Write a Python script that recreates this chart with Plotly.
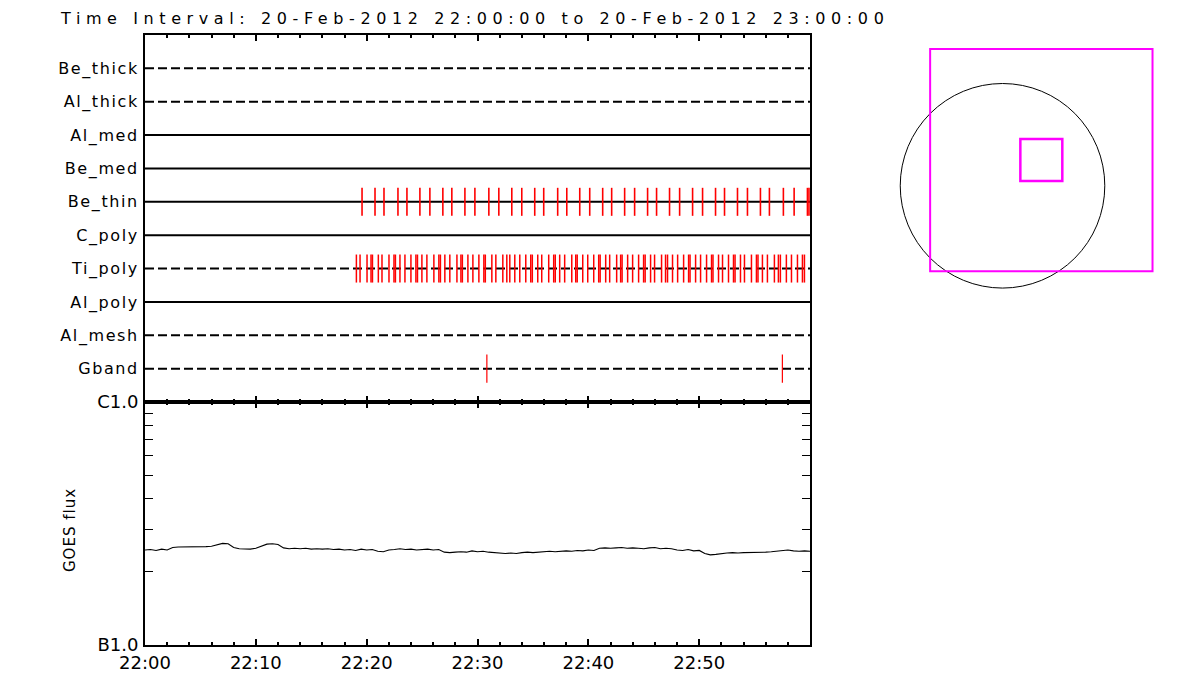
import pandas as pd
import plotly.graph_objects as go

# ---------------- data ----------------
title_text = "Time Interval: 20-Feb-2012 22:00:00 to 20-Feb-2012 23:00:00"
t_start = pd.Timestamp("2012-02-20 22:00:00")
t_end = pd.Timestamp("2012-02-20 23:00:00")

# detector/attenuator rows, bottom to top
rows = ["Gband", "Al_mesh", "Al_poly", "Ti_poly", "C_poly",
        "Be_thin", "Be_med", "Al_med", "Al_thick", "Be_thick"]
row_dashed = [True, True, False, True, False, False, False, False, True, True]

# event times, minutes after 22:00
be_thin_min = [19.58, 20.75, 21.56, 22.82, 23.63, 24.80, 25.70, 26.87, 27.68, 28.86,
               29.76, 31.02, 31.92, 33.09, 33.99, 35.16, 35.97, 37.23, 38.05, 39.22,
               40.12, 41.29, 42.10, 43.27, 44.17, 45.34, 46.15, 47.32, 48.23, 49.40,
               50.30, 51.47, 52.28, 53.45, 54.35, 55.52, 56.33, 57.59, 58.56, 59.76, 59.90]
ti_poly_min = [19.07, 19.40, 20.03, 20.39, 20.52, 21.05, 21.38, 22.01, 22.46, 22.59,
               23.00, 23.45, 23.99, 24.44, 24.58, 24.98, 25.43, 26.06, 26.51, 26.65,
               27.05, 27.50, 28.14, 28.50, 28.63, 29.13, 29.58, 30.12, 30.57, 30.70,
               31.29, 31.65, 32.28, 32.64, 32.91, 33.36, 33.81, 34.35, 34.80, 34.94,
               35.43, 35.79, 36.42, 36.87, 37.01, 37.41, 37.86, 38.50, 38.86, 38.99,
               39.49, 39.94, 40.48, 40.93, 41.06, 41.56, 41.92, 42.55, 42.91, 43.04,
               43.54, 43.99, 44.53, 44.98, 45.12, 45.61, 45.97, 46.60, 46.96, 47.14,
               47.59, 48.05, 48.59, 49.04, 49.17, 49.67, 50.12, 50.66, 51.11, 51.24,
               51.74, 52.10, 52.64, 53.09, 53.23, 53.72, 54.08, 54.71, 55.16, 55.30,
               55.70, 56.15, 56.78, 57.14, 57.32, 57.86, 58.32, 58.86, 59.31, 59.49]
gband_min = [30.84, 57.50]

# GOES flux, every 30 s from 22:00 (units of 1e-7 W/m^2)
goes_step_min = 0.5
goes_flux_e7 = [2.46, 2.47, 2.45, 2.48, 2.46, 2.52, 2.53, 2.53, 2.54, 2.53,
                2.54, 2.54, 2.55, 2.58, 2.62, 2.61, 2.52, 2.49, 2.49, 2.48,
                2.50, 2.55, 2.60, 2.61, 2.59, 2.51, 2.49, 2.50, 2.49, 2.50,
                2.48, 2.49, 2.48, 2.49, 2.47, 2.48, 2.46, 2.47, 2.45, 2.48,
                2.46, 2.47, 2.43, 2.42, 2.46, 2.47, 2.49, 2.47, 2.48, 2.46,
                2.47, 2.48, 2.46, 2.47, 2.41, 2.40, 2.41, 2.42, 2.41, 2.44,
                2.42, 2.43, 2.41, 2.40, 2.39, 2.38, 2.39, 2.38, 2.40, 2.41,
                2.40, 2.41, 2.42, 2.43, 2.42, 2.43, 2.44, 2.43, 2.45, 2.44,
                2.46, 2.45, 2.50, 2.51, 2.50, 2.51, 2.52, 2.50, 2.51, 2.50,
                2.49, 2.51, 2.52, 2.49, 2.50, 2.49, 2.46, 2.45, 2.47, 2.44,
                2.45, 2.38, 2.35, 2.36, 2.38, 2.39, 2.40, 2.39, 2.40, 2.40,
                2.41, 2.40, 2.41, 2.42, 2.43, 2.45, 2.46, 2.44, 2.43, 2.44, 2.43]
goes_tickvals = [1e-7, 1e-6]
goes_ticktext = ["B1.0", "C1.0"]
goes_minor = [2e-7, 3e-7, 4e-7, 5e-7, 6e-7, 7e-7, 8e-7, 9e-7]

# solar disk and imaging field of view (arcsec)
sun_radius = 975
fov_center = (370, 245)
fov_big = 2120
fov_small = 400

# ---------------- figure ----------------
OFF = 8                      # page body margin
W, H = 1200 - OFF, 700 - OFF
def px_x(p): return (p - OFF) / W
def px_y(p): return 1 - (p - OFF) / H

def tm(m):
    return t_start + pd.Timedelta(minutes=m)

FONT = "DejaVu Sans"
fig = go.Figure()

# row lines
for i, (name, dashed) in enumerate(zip(rows, row_dashed)):
    y = i + 1
    fig.add_trace(go.Scatter(
        x=[t_start, t_end], y=[y, y], mode="lines",
        line=dict(color="black", width=2, dash="9px,4px" if dashed else "solid"),
        xaxis="x", yaxis="y", hoverinfo="skip", showlegend=False))

def tick_segments(mins, row, half=0.42):
    xs, ys = [], []
    for m in mins:
        xs += [tm(m), tm(m), None]
        ys += [row - half, row + half, None]
    return xs, ys

for mins, name, width in [(be_thin_min, "Be_thin", 1.6),
                          (ti_poly_min, "Ti_poly", 1.5),
                          (gband_min, "Gband", 1.2)]:
    xs, ys = tick_segments(mins, rows.index(name) + 1)
    fig.add_trace(go.Scatter(x=xs, y=ys, mode="lines",
                             line=dict(color="#ff0000", width=width),
                             xaxis="x", yaxis="y", hoverinfo="skip", showlegend=False))

# GOES
goes_t = [tm(i * goes_step_min) for i in range(len(goes_flux_e7))]
goes_v = [v * 1e-7 for v in goes_flux_e7]
fig.add_trace(go.Scatter(x=goes_t, y=goes_v, mode="lines",
                         line=dict(color="black", width=1.1),
                         xaxis="x2", yaxis="y2", showlegend=False))

# dummy for the image axes
fig.add_trace(go.Scatter(x=[fov_center[0]], y=[fov_center[1]], mode="markers",
                         marker=dict(size=1, color="rgba(0,0,0,0)"),
                         xaxis="x3", yaxis="y3", showlegend=False, hoverinfo="skip"))

x_end_view = t_end - pd.Timedelta(milliseconds=500)
x_dom = [px_x(145), px_x(810)]
common_x = dict(
    domain=x_dom, range=[t_start, x_end_view], type="date", automargin=False,
    showline=True, linewidth=2, linecolor="black", mirror="allticks",
    ticks="inside", ticklen=6, tickwidth=2, tickcolor="black",
    tick0=t_start, dtick=600000, showgrid=False, zeroline=False,
    minor=dict(ticks="inside", ticklen=3, tickwidth=2, tickcolor="black",
               dtick=120000, showgrid=False),
)

row_labels = ['<span style="letter-spacing:1.6px">%s</span>' % r for r in rows]

fig.update_layout(
    width=W, height=H, autosize=False,
    margin=dict(l=0, r=0, t=0, b=0, pad=0, autoexpand=False),
    paper_bgcolor="white", plot_bgcolor="white",
    font=dict(family=FONT, color="black"),
    xaxis=dict(anchor="y", showticklabels=False, **common_x),
    yaxis=dict(domain=[px_y(402), px_y(35)], range=[0, 11], automargin=False,
               tickvals=list(range(1, len(rows) + 1)), ticktext=row_labels,
               ticks="", showline=True, linewidth=2, linecolor="black", mirror=True,
               showgrid=False, zeroline=False, ticklabelstandoff=1,
               tickfont=dict(size=16, family=FONT)),
    xaxis2=dict(anchor="y2", showticklabels=True, tickformat="%H:%M",
                tickfont=dict(size=18, family=FONT), **common_x),
    yaxis2=dict(domain=[px_y(645), px_y(402)], type="log", range=[-7, -6],
                automargin=False,
                tickvals=goes_tickvals, ticktext=goes_ticktext,
                ticks="inside", ticklen=1, tickwidth=1, tickcolor="black",
                showline=True, linewidth=2, linecolor="black", mirror="allticks",
                showgrid=False, zeroline=False, ticklabelstandoff=1,
                tickfont=dict(size=18, family=FONT),
                minor=dict(ticks="inside", ticklen=8, tickwidth=1.3,
                           tickcolor="black", tickvals=goes_minor, showgrid=False)),
    xaxis3=dict(domain=[px_x(880), px_x(1180)], anchor="y3", visible=False,
                range=[-1168, 1692], automargin=False),
    yaxis3=dict(domain=[px_y(310), px_y(30)], anchor="x3", visible=False,
                range=[-1184, 1485], automargin=False),
)

# shapes: solar disk + FOV boxes
cx, cy = fov_center
fig.add_shape(type="circle", xref="x3", yref="y3",
              x0=-sun_radius, x1=sun_radius, y0=-sun_radius, y1=sun_radius,
              line=dict(color="black", width=1))
for size, w in [(fov_big, 2), (fov_small, 2.5)]:
    fig.add_shape(type="rect", xref="x3", yref="y3",
                  x0=cx - size / 2, x1=cx + size / 2, y0=cy - size / 2, y1=cy + size / 2,
                  line=dict(color="#ff00ff", width=w))

# title
fig.add_annotation(
    xref="paper", yref="paper", x=px_x(59), y=px_y(OFF),
    xanchor="left", yanchor="top", showarrow=False, borderpad=0,
    text='<span style="letter-spacing:5.6px">%s</span>' % title_text,
    font=dict(size=16, family=FONT, color="black"))

# y title of GOES panel
fig.add_annotation(
    xref="paper", yref="paper", x=px_x(70), y=px_y(530),
    xanchor="center", yanchor="middle", showarrow=False, textangle=-90,
    text='<span style="letter-spacing:1px">GOES flux</span>',
    font=dict(size=15, family=FONT, color="black"))

fig.write_html("out.html")
